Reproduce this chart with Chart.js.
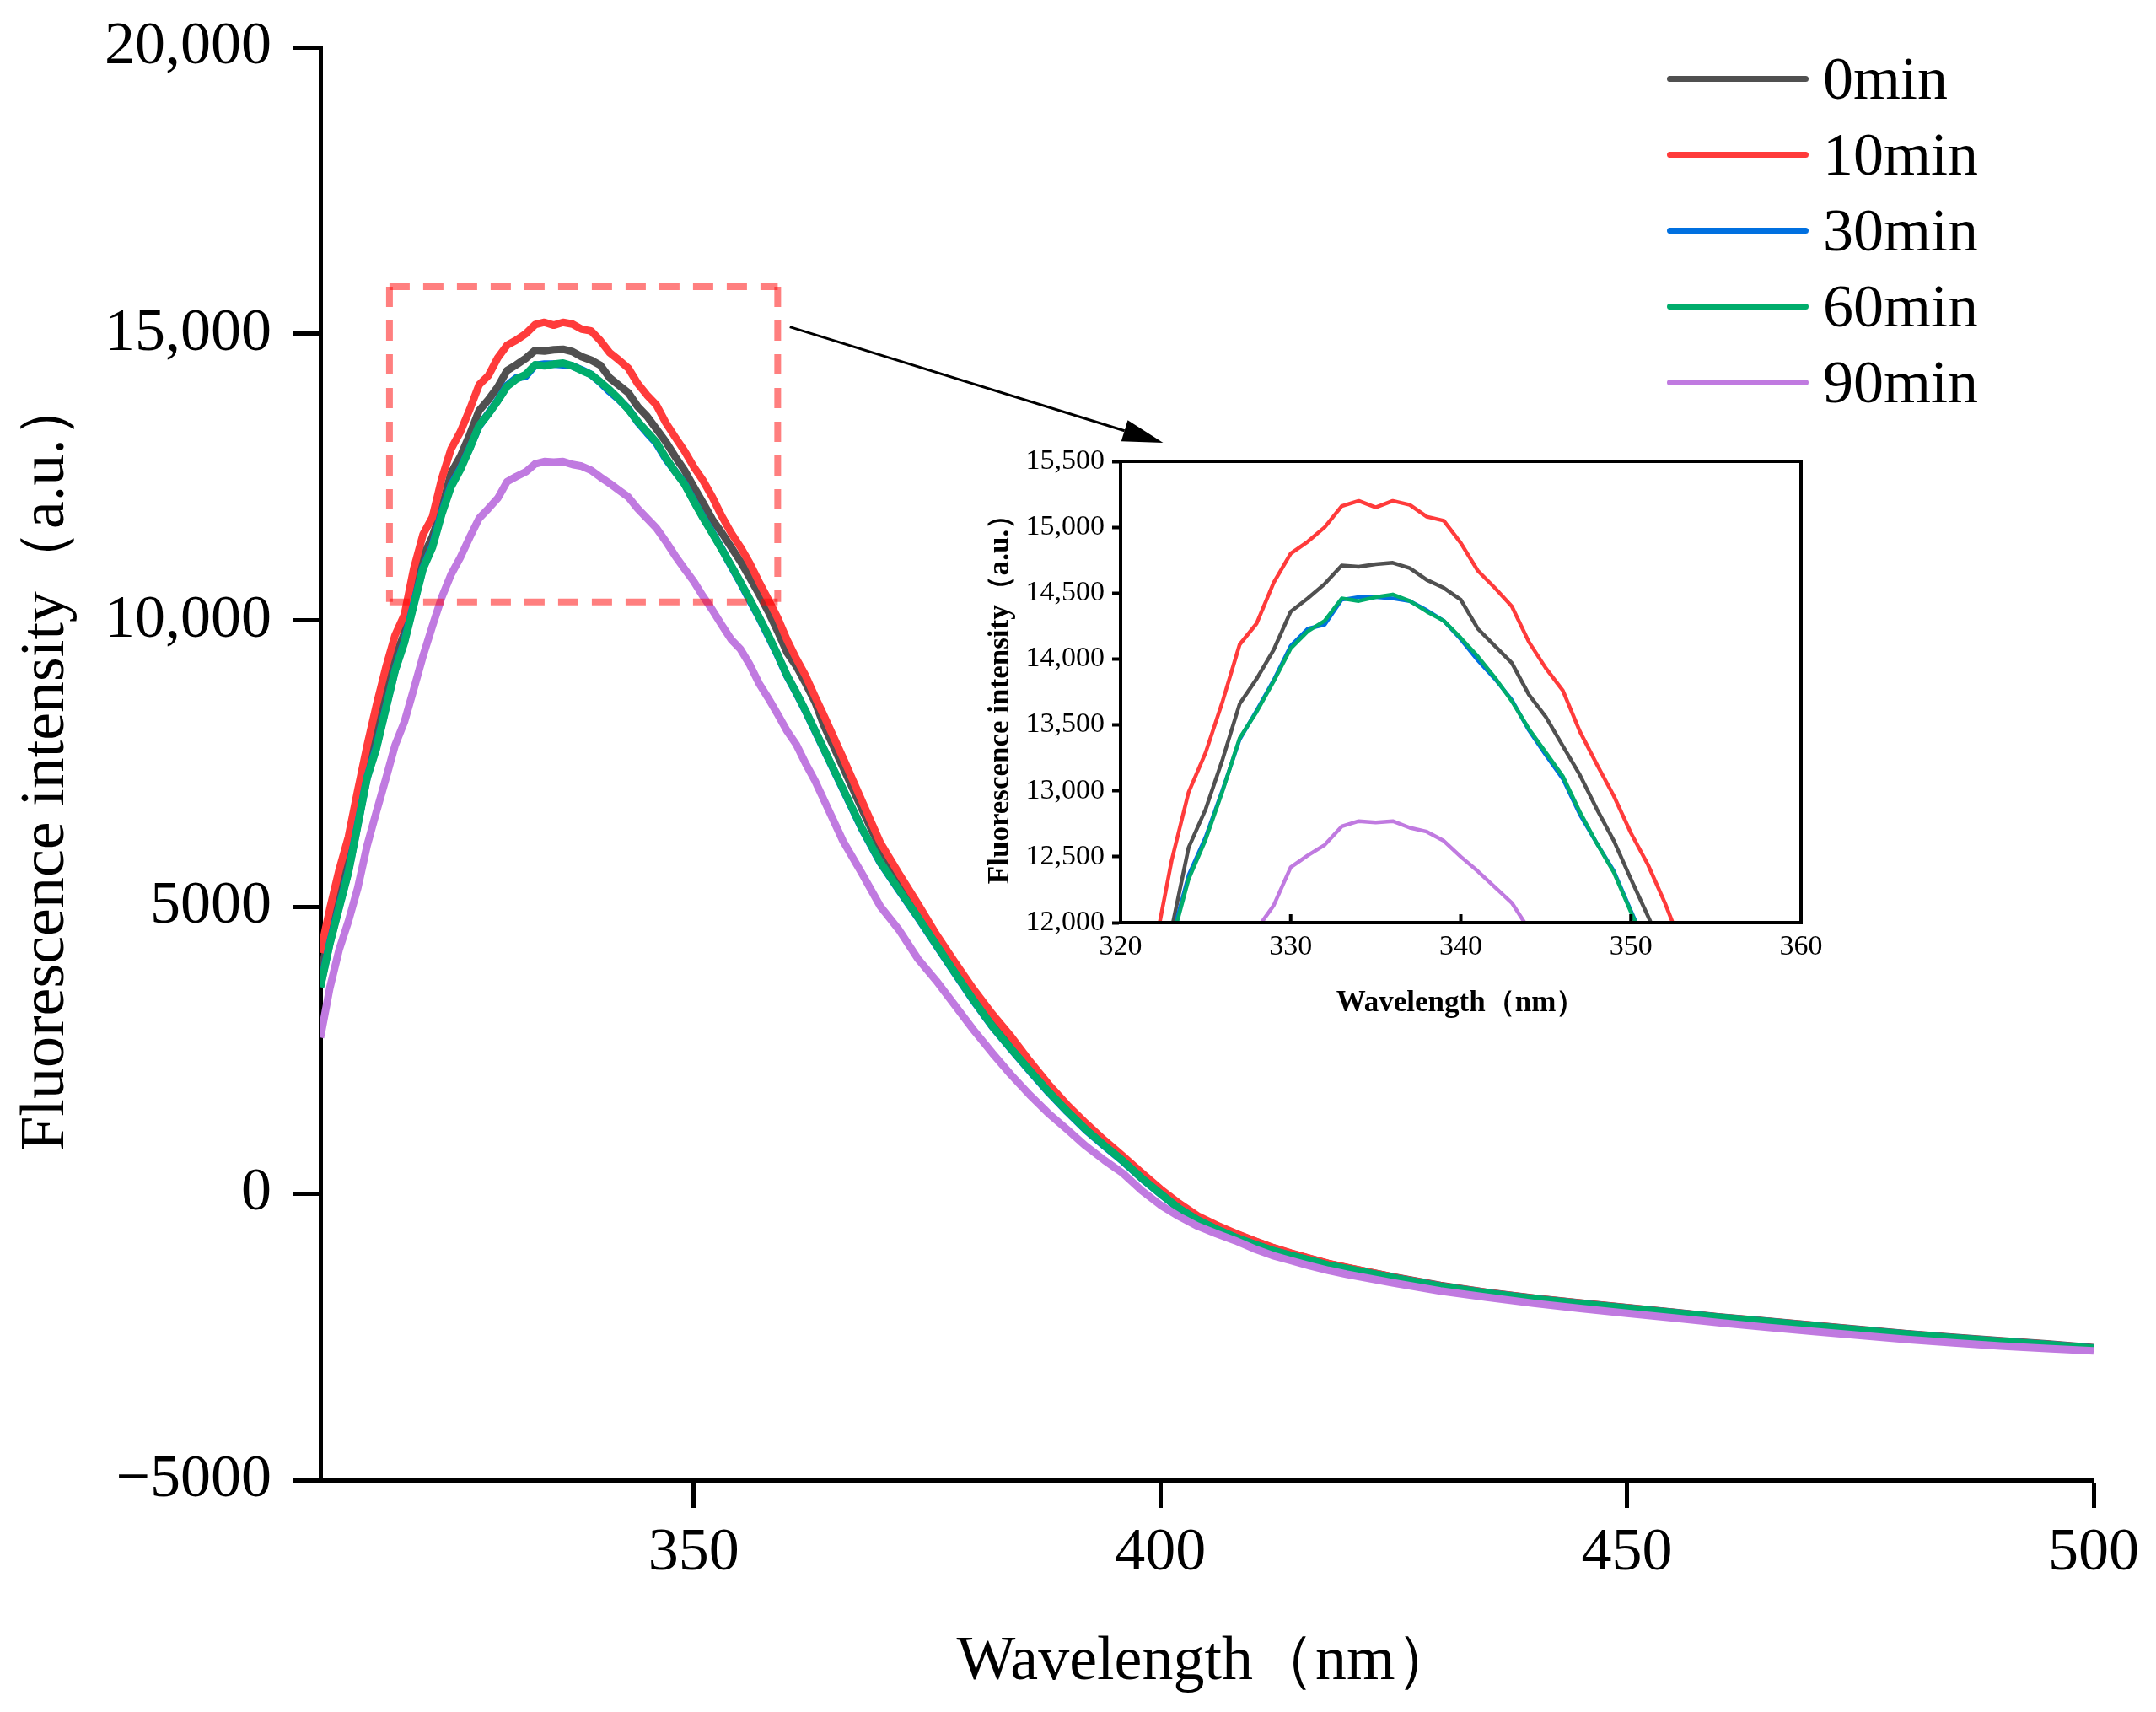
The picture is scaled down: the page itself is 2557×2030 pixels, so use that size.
<!DOCTYPE html>
<html>
<head>
<meta charset="utf-8">
<script src="https://cdn.jsdelivr.net/npm/chart.js@4.4.1/dist/chart.umd.min.js"></script>
<style>
  html, body { margin: 0; padding: 0; background: #fff; }
  #wrap { position: relative; width: 2557px; height: 2030px; overflow: hidden; }
  #main { position: absolute; left: 0; top: 0; }
  #inset { position: absolute; left: 1140px; top: 500px; }
  #legend { position: absolute; left: 1977px; top: 48px; font-family: "Liberation Serif", serif; font-size: 72px; color: #000; }
  .row { display: flex; align-items: center; height: 90px; }
  .swatch { width: 168px; height: 7px; border-radius: 4px; margin-right: 17px; }
</style>
</head>
<body>
<div id="wrap">
  <canvas id="main" width="2557" height="2030"></canvas>
  <canvas id="inset" width="1060" height="740"></canvas>
  <div id="legend"></div>
</div>
<script>
// wavelength (nm)
const wavelength = [
  310, 311, 312, 313, 314, 315, 316, 317, 318, 319, 320, 321, 322,
  323, 324, 325, 326, 327, 328, 329, 330, 331, 332, 333, 334, 335, 336, 337, 338,
  339, 340, 341, 342, 343, 344, 345, 346, 347, 348, 349, 350, 351, 352,
  353, 354, 355, 356, 357, 358, 359, 360, 361, 362, 363,
  364, 366, 368, 370, 372, 374, 376, 378, 380, 382, 384, 386, 388, 390, 392,
  394, 396, 398, 400, 402, 404, 406, 408, 410, 412, 414, 416, 418, 420,
  425, 430, 435, 440, 445, 450, 455, 460, 465, 470, 475, 480, 485, 490, 495, 500
];

const min0 = [
  3800, 4570, 5210, 5820, 6640, 7450, 8030, 8700, 9340, 9780, 10480, 11110, 11460,
  11950, 12570, 12860, 13240, 13660, 13850, 14070, 14360, 14460, 14570, 14710, 14700, 14720, 14730, 14690, 14600,
  14540, 14450, 14230, 14100, 13970, 13730, 13560, 13340, 13120, 12860, 12620, 12330, 12050, 11760,
  11530, 11280, 11030, 10750, 10460, 10150, 9810, 9440, 9200, 8900, 8580,
  8150, 7440, 6720, 6020, 5500, 4990, 4470, 3980, 3500, 3070, 2680, 2260, 1870, 1520, 1200,
  900, 630, 330, 55, -195, -410, -560, -700, -825, -945, -1045, -1135, -1225, -1295,
  -1455, -1605, -1725, -1825, -1910, -1990, -2070, -2155, -2225, -2300, -2375, -2445, -2510, -2570, -2625, -2690
];

const min10 = [
  4200, 4960, 5640, 6220, 7030, 7810, 8520, 9170, 9740, 10100, 10900, 11500, 11800,
  12470, 12990, 13290, 13680, 14110, 14270, 14580, 14800, 14890, 15000, 15160, 15200, 15150, 15200, 15170, 15080,
  15050, 14880, 14670, 14540, 14400, 14130, 13930, 13760, 13450, 13200, 12960, 12680, 12440, 12150,
  11820, 11530, 11280, 11000, 10670, 10360, 10040, 9660, 9330, 9030, 8670,
  8320, 7600, 6860, 6120, 5580, 5060, 4520, 4030, 3560, 3130, 2740, 2310, 1910, 1550, 1230,
  930, 650, 360, 80, -170, -390, -550, -690, -820, -940, -1040, -1130, -1220, -1290,
  -1460, -1610, -1730, -1830, -1915, -1995, -2075, -2160, -2230, -2305, -2380, -2450, -2515, -2575, -2630, -2700
];

const min30 = [
  3620, 4370, 5000, 5620, 6440, 7260, 7790, 8470, 9130, 9640, 10290, 10920, 11300,
  11880, 12360, 12650, 13010, 13390, 13610, 13840, 14100, 14230, 14260, 14450, 14470, 14470, 14460, 14440, 14370,
  14290, 14150, 13990, 13850, 13690, 13460, 13270, 13090, 12820, 12600, 12390, 12090, 11800, 11530,
  11250, 10950, 10660, 10350, 10050, 9720, 9390, 9030, 8730, 8410, 8070,
  7730, 7050, 6370, 5770, 5290, 4820, 4330, 3840, 3360, 2910, 2520, 2140, 1770, 1430, 1110,
  830, 560, 265, -5, -265, -465, -625, -765, -885, -995, -1085, -1165, -1255, -1315,
  -1470, -1620, -1735, -1835, -1920, -2000, -2080, -2165, -2235, -2310, -2385, -2455, -2520, -2580, -2635, -2700
];

const min60 = [
  3600, 4350, 4980, 5600, 6420, 7250, 7760, 8450, 9120, 9610, 10260, 10900, 11270,
  11850, 12330, 12630, 13000, 13400, 13600, 13830, 14080, 14210, 14290, 14460, 14440, 14470, 14490, 14440, 14360,
  14290, 14160, 14020, 13860, 13680, 13470, 13290, 13110, 12840, 12600, 12380, 12080, 11790, 11520,
  11240, 10960, 10670, 10370, 10060, 9740, 9400, 9040, 8740, 8420, 8080,
  7740, 7060, 6380, 5780, 5300, 4830, 4340, 3850, 3370, 2920, 2530, 2150, 1780, 1440, 1120,
  840, 570, 270, 0, -260, -460, -620, -760, -880, -990, -1080, -1160, -1250, -1310,
  -1470, -1620, -1735, -1835, -1920, -2000, -2080, -2165, -2235, -2310, -2385, -2455, -2520, -2580, -2635, -2700
];

const min90 = [
  2720, 3580, 4250, 4750, 5330, 6070, 6660, 7230, 7820, 8230, 8800, 9380, 9900,
  10400, 10800, 11100, 11450, 11780, 11950, 12130, 12420, 12510, 12590, 12730, 12770, 12760, 12770, 12720, 12690,
  12620, 12500, 12390, 12270, 12150, 11950, 11780, 11610, 11380, 11130, 10900, 10680, 10420, 10180,
  9920, 9670, 9500, 9230, 8900, 8640, 8360, 8070, 7830, 7500, 7200,
  6850, 6150, 5590, 5010, 4600, 4100, 3710, 3280, 2850, 2450, 2070, 1720, 1400, 1120, 830,
  580, 350, 50, -200, -400, -570, -700, -820, -960, -1080, -1170, -1260, -1340, -1410,
  -1560, -1700, -1810, -1915, -2005, -2090, -2170, -2255, -2335, -2405, -2475, -2545, -2605, -2660, -2705, -2745
];

const seriesNames = ['0min', '10min', '30min', '60min', '90min'];
const seriesValues = [min0, min10, min30, min60, min90];
const colors = ['#505050', '#ff3b3b', '#0070e0', '#00ad6c', '#c07ae0'];

const xTicks = [350, 400, 450, 500];
const yTickValues = [-5000, 0, 5000, 10000, 15000, 20000];
const yTickLabels = ['\u22125000', '0', '5000', '10,000', '15,000', '20,000'];

const insetXTicks = [320, 330, 340, 350, 360];
const insetYTickValues = [12000, 12500, 13000, 13500, 14000, 14500, 15000, 15500];
const insetYTickLabels = ['12,000', '12,500', '13,000', '13,500', '14,000', '14,500', '15,000', '15,500'];

// zoom box and arrow, in main-chart data units
const zoomBox = { x0: 317.4, x1: 359.0, y0: 10320, y1: 15820 };
const arrow = { x0: 360.3, y0: 15120, x1: 400.3, y1: 13100 };

const serif = 'Liberation Serif, Times New Roman, serif';

function makeDatasets(width) {
  // later series sit on top (green over blue, purple over all)
  return seriesNames.map((name, i) => ({
    label: name,
    data: wavelength.map((w, j) => ({ x: w, y: seriesValues[i][j] })),
    borderColor: colors[i],
    backgroundColor: colors[i],
    borderWidth: width,
    borderJoinStyle: 'round',
    pointRadius: 0,
    tension: 0,
    fill: false,
    order: seriesNames.length - i
  }));
}

const boxPlugin = {
  id: 'boxPlugin',
  afterDatasetsDraw(chart) {
    const { ctx } = chart;
    const x = chart.scales.x, y = chart.scales.y;
    const l = x.getPixelForValue(zoomBox.x0), r = x.getPixelForValue(zoomBox.x1);
    const t = y.getPixelForValue(zoomBox.y1), b = y.getPixelForValue(zoomBox.y0);
    ctx.save();
    ctx.strokeStyle = 'rgba(255,0,0,0.5)';
    ctx.lineWidth = 8;
    ctx.setLineDash([24, 16]);
    [[l, t, r, t], [r, t, r, b], [l, b, r, b], [l, t, l, b]].forEach(s => {
      ctx.beginPath();
      ctx.moveTo(s[0], s[1]);
      ctx.lineTo(s[2], s[3]);
      ctx.stroke();
    });
    ctx.restore();

    // arrow to the inset
    const ax0 = x.getPixelForValue(arrow.x0), ay0 = y.getPixelForValue(arrow.y0);
    const ax1 = x.getPixelForValue(arrow.x1), ay1 = y.getPixelForValue(arrow.y1);
    const ang = Math.atan2(ay1 - ay0, ax1 - ax0);
    const hl = 48, hw = 13;
    const bx = ax1 - hl * Math.cos(ang), by = ay1 - hl * Math.sin(ang);
    ctx.save();
    ctx.strokeStyle = '#000';
    ctx.fillStyle = '#000';
    ctx.lineWidth = 3;
    ctx.beginPath();
    ctx.moveTo(ax0, ay0);
    ctx.lineTo(bx, by);
    ctx.stroke();
    ctx.beginPath();
    ctx.moveTo(ax1, ay1);
    ctx.lineTo(bx + hw * Math.sin(ang), by - hw * Math.cos(ang));
    ctx.lineTo(bx - hw * Math.sin(ang), by + hw * Math.cos(ang));
    ctx.closePath();
    ctx.fill();
    ctx.restore();
  }
};

new Chart(document.getElementById('main'), {
  type: 'line',
  data: { datasets: makeDatasets(9) },
  options: {
    responsive: false,
    devicePixelRatio: 1,
    animation: false,
    layout: { padding: { left: 0, top: 56, right: 74, bottom: 0 } },
    plugins: { legend: { display: false }, tooltip: { enabled: false } },
    scales: {
      x: {
        type: 'linear',
        min: 310,
        max: 500,
        afterBuildTicks: s => { s.ticks = xTicks.map(v => ({ value: v })); },
        afterFit: s => { s.height = 275; },
        grid: { drawOnChartArea: false, tickLength: 33, tickWidth: 5, tickColor: '#000' },
        border: { color: '#000', width: 5 },
        ticks: { color: '#000', font: { family: serif, size: 72 }, padding: 11, maxRotation: 0 },
        title: {
          display: true, text: 'Wavelength（nm）', color: '#000',
          font: { family: serif, size: 74 }, padding: { top: 0, bottom: 14 }
        }
      },
      y: {
        type: 'linear',
        min: -5000,
        max: 20000,
        afterBuildTicks: s => { s.ticks = yTickValues.map(v => ({ value: v })); },
        afterFit: s => { s.width = 380; },
        grid: { drawOnChartArea: false, tickLength: 33, tickWidth: 5, tickColor: '#000' },
        border: { color: '#000', width: 5 },
        ticks: {
          color: '#000', font: { family: serif, size: 72, lineHeight: 0.8 }, padding: 25,
          callback: v => yTickLabels[yTickValues.indexOf(v)]
        },
        title: {
          display: true, text: 'Fluorescence intensity（a.u.）', color: '#000',
          font: { family: serif, size: 74 }, padding: { top: 11, bottom: 0 }
        }
      }
    }
  },
  plugins: [boxPlugin]
});

const framePlugin = {
  id: 'framePlugin',
  afterDraw(chart) {
    const { ctx, chartArea: a } = chart;
    const x = chart.scales.x;
    ctx.save();
    ctx.strokeStyle = '#000';
    ctx.lineWidth = 4;
    ctx.strokeRect(a.left, a.top, a.right - a.left, a.bottom - a.top);
    insetXTicks.forEach(v => {
      const px = x.getPixelForValue(v);
      ctx.beginPath();
      ctx.moveTo(px, a.bottom);
      ctx.lineTo(px, a.bottom - 10);
      ctx.stroke();
    });
    ctx.restore();
  }
};

new Chart(document.getElementById('inset'), {
  type: 'line',
  data: { datasets: makeDatasets(4.5) },
  options: {
    responsive: false,
    devicePixelRatio: 1,
    animation: false,
    layout: { padding: { left: 0, top: 47, right: 64, bottom: 0 } },
    plugins: { legend: { display: false }, tooltip: { enabled: false } },
    scales: {
      x: {
        type: 'linear',
        min: 320,
        max: 360,
        afterBuildTicks: s => { s.ticks = insetXTicks.map(v => ({ value: v })); },
        afterFit: s => { s.height = 146; },
        grid: { drawOnChartArea: false, drawTicks: false },
        border: { color: '#000', width: 4 },
        ticks: { color: '#000', font: { family: serif, size: 34 }, padding: 9, maxRotation: 0 },
        title: {
          display: true, text: 'Wavelength（nm）', color: '#000',
          font: { family: serif, size: 35, weight: 'bold' }, padding: { top: 0, bottom: 29 }
        }
      },
      y: {
        type: 'linear',
        min: 12000,
        max: 15500,
        afterBuildTicks: s => { s.ticks = insetYTickValues.map(v => ({ value: v })); },
        afterFit: s => { s.width = 189; },
        grid: { drawOnChartArea: false, tickLength: 10, tickWidth: 4, tickColor: '#000' },
        border: { color: '#000', width: 4 },
        ticks: {
          color: '#000', font: { family: serif, size: 34 }, padding: 9,
          callback: v => insetYTickLabels[insetYTickValues.indexOf(v)]
        },
        title: {
          display: true, text: 'Fluorescence intensity（a.u.）', color: '#000',
          font: { family: serif, size: 35, weight: 'bold' }, padding: { top: 26, bottom: 0 }
        }
      }
    }
  },
  plugins: [framePlugin]
});

// legend
const legend = document.getElementById('legend');
seriesNames.forEach((name, i) => {
  const row = document.createElement('div');
  row.className = 'row';
  const sw = document.createElement('div');
  sw.className = 'swatch';
  sw.style.background = colors[i];
  const label = document.createElement('span');
  label.textContent = name;
  row.appendChild(sw);
  row.appendChild(label);
  legend.appendChild(row);
});
</script>
</body>
</html>
